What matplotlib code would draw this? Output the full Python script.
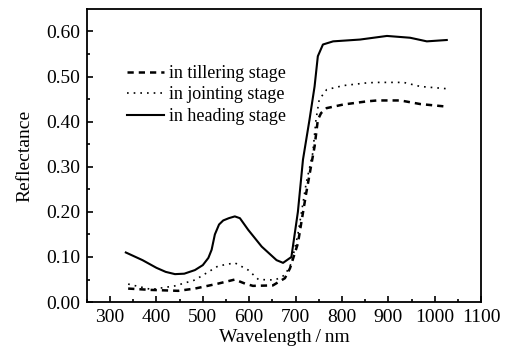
import numpy as np
import matplotlib.pyplot as plt

plt.rcParams['font.family'] = ['Liberation Serif', 'DejaVu Serif']

# wavelength (nm) and reflectance for each growth stage
wl_heading = [334, 370, 400, 420, 440, 460, 483, 500, 512, 519, 526, 535, 544, 556, 569, 580,
              598, 627, 659, 673, 691, 705, 716, 730, 741, 748, 759, 781, 839, 897, 947, 983, 1026]
r_heading = [0.110, 0.093, 0.076, 0.067, 0.062, 0.063, 0.071, 0.082, 0.098, 0.116, 0.150, 0.172,
             0.181, 0.186, 0.190, 0.186, 0.160, 0.123, 0.093, 0.087, 0.100, 0.200, 0.316, 0.404,
             0.478, 0.545, 0.571, 0.578, 0.582, 0.590, 0.586, 0.578, 0.581]

wl_jointing = [339, 389, 440, 483, 533, 569, 598, 620, 656, 677, 691, 705, 723, 737, 744, 751,
               767, 803, 854, 876, 933, 969, 1026]
r_jointing = [0.040, 0.028, 0.036, 0.049, 0.080, 0.087, 0.071, 0.050, 0.049, 0.060, 0.086, 0.150,
              0.264, 0.330, 0.404, 0.449, 0.471, 0.480, 0.486, 0.487, 0.487, 0.478, 0.473]

wl_tillering = [339, 389, 447, 483, 533, 569, 591, 608, 651, 677, 688, 705, 723, 741, 748, 755,
                767, 803, 854, 876, 926, 969, 1019]
r_tillering = [0.030, 0.027, 0.025, 0.030, 0.041, 0.050, 0.041, 0.036, 0.037, 0.053, 0.075, 0.130,
               0.242, 0.345, 0.404, 0.419, 0.430, 0.438, 0.445, 0.447, 0.447, 0.439, 0.434]

fig = plt.figure(figsize=(5.08, 3.55), dpi=100)
ax = fig.add_axes([0.171, 0.149, 0.776, 0.826])

ax.plot(wl_tillering, r_tillering, color='black', lw=1.8, ls=(0, (2.5, 2)), label='in tillering stage')
ax.plot(wl_jointing, r_jointing, color='black', lw=1.2, ls=(0, (1, 3)), label='in jointing stage')
ax.plot(wl_heading, r_heading, color='black', lw=1.5, ls='-', label='in heading stage')

ax.set_xlim(250, 1100)
ax.set_ylim(0, 0.65)
ax.set_xticks(np.arange(300, 1101, 100))
ax.set_xticks(np.arange(250, 1100, 50), minor=True)
ax.set_yticks(np.arange(0, 0.61, 0.1))
ax.set_yticks(np.arange(0, 0.65, 0.05), minor=True)
ax.set_yticklabels(['%.2f' % v for v in np.arange(0, 0.61, 0.1)])
ax.tick_params(which='both', direction='in', top=False, right=False, labelsize=14, width=1.2)
ax.tick_params(which='major', length=4, pad=5)
ax.tick_params(which='minor', length=2.5)
for s in ax.spines.values():
    s.set_linewidth(1.3)

ax.set_xlabel('Wavelength\u2009/\u2009nm', fontsize=14, labelpad=2)
ax.set_ylabel('Reflectance', fontsize=14, labelpad=9)

ax.legend(loc='upper left', bbox_to_anchor=(0.08, 0.84), frameon=False, fontsize=13,
          handlelength=2.0, handletextpad=0.3, labelspacing=0.25, borderpad=0)

fig.savefig('out.png', dpi=100)
